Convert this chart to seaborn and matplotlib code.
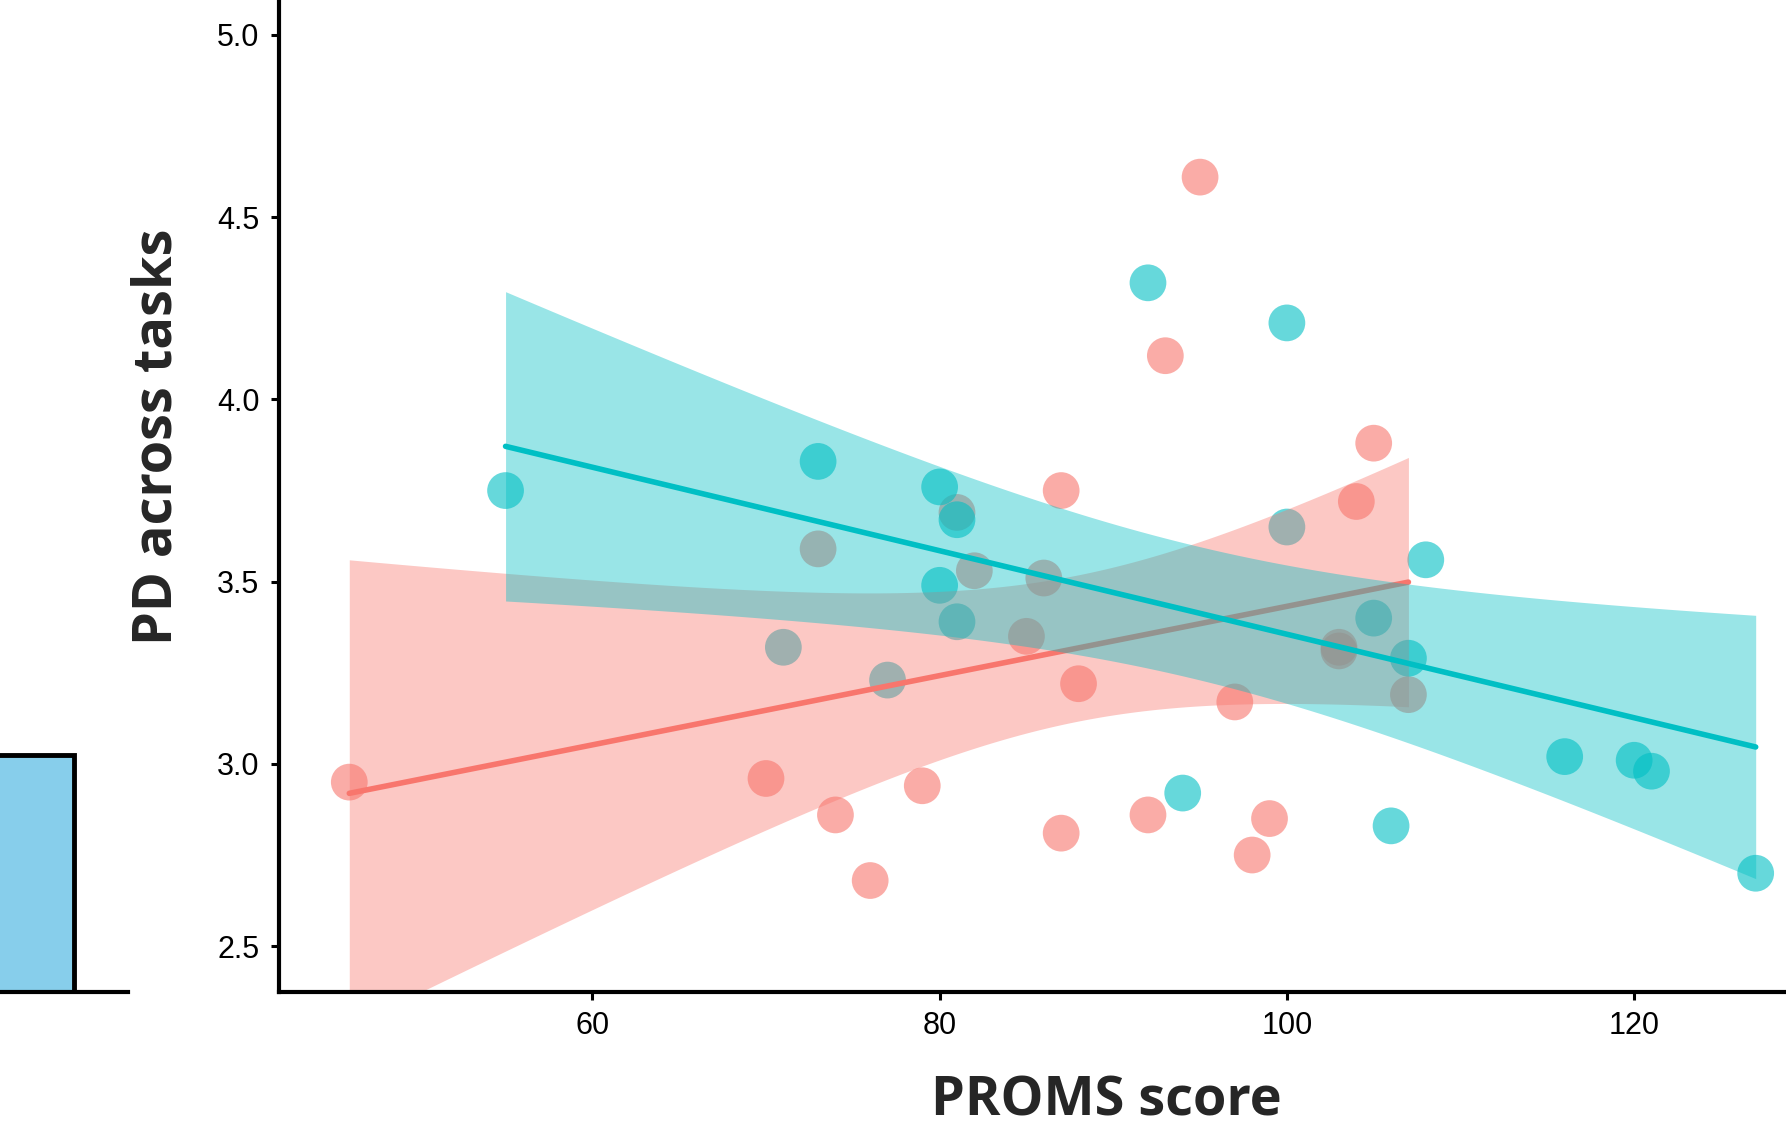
import numpy as np
import pandas as pd
import matplotlib
matplotlib.use("Agg")
import matplotlib.pyplot as plt
import seaborn as sns

# ---------------- data ----------------
red_x = [46, 70, 73, 74, 76, 79, 81, 82, 85, 86, 87, 87, 88, 92, 93, 95,
         97, 98, 99, 103, 103, 104, 105, 107]
red_y = [2.95, 2.96, 3.59, 2.86, 2.68, 2.94, 3.69, 3.53, 3.35, 3.51,
         3.75, 2.81, 3.22, 2.86, 4.12, 4.61, 3.17, 2.75, 2.85, 3.31, 3.32,
         3.72, 3.88, 3.19]
teal_x = [55, 71, 73, 77, 80, 80, 81, 81, 92, 94, 100, 100, 105, 106, 107, 108,
          116, 120, 121, 127]
teal_y = [3.75, 3.32, 3.83, 3.23, 3.76, 3.49, 3.67, 3.39, 4.32, 2.92, 4.21, 3.65,
          3.40, 2.83, 3.29, 3.56, 3.02, 3.01, 2.98, 2.70]

group_names = ["A", "B"]
group_colors = ["#F8766D", "#00BFC4"]
# two-sided 95% t quantiles for the residual degrees of freedom
t_quantiles = {17: 2.110, 18: 2.101, 19: 2.093, 20: 2.086, 21: 2.080,
               22: 2.074, 23: 2.069, 24: 2.064}

x_ticks = [60, 80, 100, 120]
y_ticks = [2.5, 3.0, 3.5, 4.0, 4.5, 5.0]
y_ticklabels = ["2.5", "3.0", "3.5", "4.0", "4.5", "5.0"]
x_label = "PROMS score"
y_label = "PD across tasks"

left_cat = ["bar"]
left_val = [0.239]

df = pd.DataFrame({
    "x": red_x + teal_x,
    "y": red_y + teal_y,
    "g": [group_names[0]] * len(red_x) + [group_names[1]] * len(teal_x),
})

# ---------------- figure ----------------
sns.set_theme(style="white")
plt.rcParams["font.family"] = ["Liberation Sans", "DejaVu Sans"]

fig = plt.figure(figsize=(17.86, 11.33), dpi=100)
ax = fig.add_axes([0.1562, 0.1244, 0.8662, 0.8756])

# points (red first, teal on top)
sns.scatterplot(data=df, x="x", y="y", hue="g", palette=group_colors,
                hue_order=group_names, s=700, alpha=0.6, linewidth=0,
                legend=False, ax=ax, zorder=1)

z = 2
for name, col in zip(group_names, group_colors):
    sub = df[df.g == name]
    xs = sub.x.to_numpy(float)
    ys = sub.y.to_numpy(float)
    n = len(xs)
    b, a = np.polyfit(xs, ys, 1)
    resid = ys - (a + b * xs)
    s = np.sqrt(np.sum(resid ** 2) / (n - 2))
    grid = np.linspace(xs.min(), xs.max(), 200)
    se = s * np.sqrt(1 / n + (grid - xs.mean()) ** 2 / np.sum((xs - xs.mean()) ** 2))
    t = t_quantiles[n - 2]
    fit = a + b * grid
    ax.fill_between(grid, fit - t * se, fit + t * se, color=col, alpha=0.4,
                    linewidth=0, zorder=z)
    sns.lineplot(x=grid, y=fit, color=col, linewidth=4.0, ax=ax, zorder=z + 1)
    z += 2

ax.set_xlim(41.95, 131.05)
ax.set_ylim(2.374, 5.096)
ax.set_xticks(x_ticks)
ax.set_xticklabels([str(v) for v in x_ticks])
ax.set_yticks(y_ticks)
ax.set_yticklabels(y_ticklabels)
ax.set_xlabel("")
ax.set_ylabel("")
for sp in ["top", "right"]:
    ax.spines[sp].set_visible(False)
for sp in ["left", "bottom"]:
    ax.spines[sp].set_color("black")
    ax.spines[sp].set_linewidth(3.0)
ax.tick_params(axis="both", which="major", length=6, width=2.2, color="black",
               labelsize=22, labelcolor="black", bottom=True, left=True)
ax.tick_params(axis="x", pad=8)
ax.tick_params(axis="y", pad=8)

fig.text(1106 / 1786, 1 - 1102 / 1133, x_label, ha="center", va="center",
         fontsize=39, fontweight="bold", family=["Open Sans", "DejaVu Sans"])
fig.text(157 / 1786, 1 - 437 / 1133, y_label, ha="center", va="center",
         rotation=90, fontsize=39, fontweight="bold",
         family=["Open Sans", "DejaVu Sans"])

# fragment of the neighbouring panel on the left
ax0 = fig.add_axes([0, 0.1244, 128 / 1786, 0.8756])
sns.barplot(x=left_cat, y=left_val, color="#87CEEB", edgecolor="black",
            linewidth=3.5, width=0.8, saturation=1, ax=ax0)
ax0.set_xlim(-0.294, 0.906)
ax0.set_ylim(0, 1)
ax0.set_xticks([])
ax0.set_yticks([])
ax0.set_xlabel("")
ax0.set_ylabel("")
for sp in ["top", "right", "left"]:
    ax0.spines[sp].set_visible(False)
ax0.spines["bottom"].set_color("black")
ax0.spines["bottom"].set_linewidth(3.0)
ax0.patch.set_alpha(0)

fig.savefig("out.png", dpi=100)
